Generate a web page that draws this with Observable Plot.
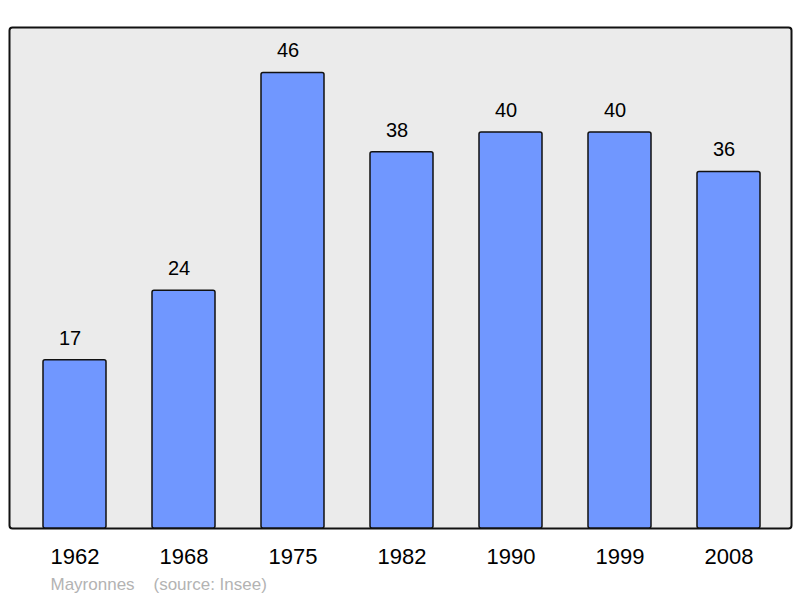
<!DOCTYPE html>
<html>
<head>
<meta charset="utf-8">
<script src="https://cdn.jsdelivr.net/npm/d3@7"></script>
<script src="https://cdn.jsdelivr.net/npm/@observablehq/plot@0.6"></script>
<style>
  html, body { margin: 0; padding: 0; background: #fff; }
  svg { display: block; }
</style>
</head>
<body>
<div id="chart"></div>
<script>
const years = ["1962", "1968", "1975", "1982", "1990", "1999", "2008"];
const population = [17, 24, 46, 38, 40, 40, 36];
const caption = "Mayronnes\u00a0\u00a0\u00a0\u00a0(source: Insee)";

const data = years.map((y, i) => ({year: y, value: population[i]}));

const chart = Plot.plot({
  width: 800,
  height: 598,
  marginTop: 27,
  marginBottom: 70,
  marginLeft: 9,
  marginRight: 9,
  style: {fontFamily: "'Liberation Sans', Arial, sans-serif", background: "#fff"},
  x: {domain: years, range: [19.5, 783], paddingInner: 0.425, paddingOuter: 0.2, label: null},
  y: {domain: [0, 50.6], range: [528, 27], axis: null},
  marks: [
    Plot.frame({fill: "#ebebeb", stroke: "#111", strokeWidth: 2, rx: 3}),
    Plot.barY(data, {x: "year", y: "value", fill: "#7097ff", stroke: "#111", strokeWidth: 1.5, rx: 2}),
    Plot.text(data, {x: "year", y: "value", text: d => String(d.value), dy: -22, dx: -5, fontSize: 20, fill: "#000"}),
    Plot.axisX({tickSize: 0, tickPadding: 20, fontSize: 22, color: "#000", label: null}),
    Plot.text([caption], {frameAnchor: "bottom-left", dx: 41, dy: 61, textAnchor: "start", fontSize: 17, fill: "#b3b3b3"})
  ]
});
document.getElementById("chart").appendChild(chart);
</script>
</body>
</html>
